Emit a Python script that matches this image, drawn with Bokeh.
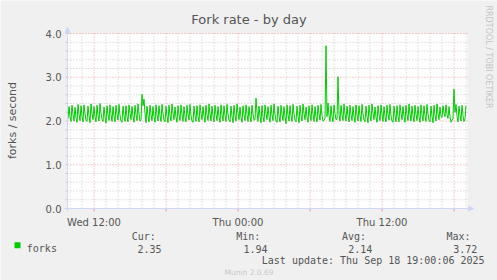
import math
import pandas as pd
from bokeh.plotting import figure
from bokeh.models import (Range1d, Label, Arrow, NormalHead, BoxAnnotation, ColumnDataSource)
from bokeh.embed import file_html
from bokeh.resources import INLINE

# ---------------- data ----------------
title_text = "Fork rate - by day"
y_label = "forks / second"
series_name = "forks"
series_color = "#00cc00"
first_sample = "2025-09-17 09:50"
step = "5min"
view_start = "2025-09-17 09:47:30"
view_end = "2025-09-18 19:07:30"

forks = [
    2.05, 2.33, 2.10, 1.99, 2.36, 2.14, 2.00, 2.31, 2.08, 1.97, 2.38, 2.15,
    2.01, 2.35, 2.11, 1.98, 2.37, 2.16, 2.02, 1.99, 2.34, 2.12, 1.96, 2.39,
    2.17, 2.03, 2.33, 2.09, 1.98, 2.36, 2.13, 2.00, 2.40, 2.18, 2.04, 1.99,
    2.32, 2.10, 1.95, 2.35, 2.14, 2.01, 2.37, 2.15, 1.99, 2.33, 2.11, 1.98,
    2.36, 2.16, 2.02, 2.38, 2.13, 2.00, 1.97, 2.34, 2.12, 1.99, 2.35, 2.10,
    1.98, 2.37, 2.17, 2.03, 2.33, 2.11, 1.97, 2.36, 2.14, 2.01, 2.39, 2.16,
    2.00, 2.02, 2.61, 2.35, 2.50, 2.18, 1.96, 2.34, 2.12, 1.98, 2.36, 2.15,
    2.01, 2.33, 2.10, 1.97, 2.37, 2.14, 2.00, 2.35, 2.12, 1.99, 2.38, 2.16,
    2.02, 1.98, 2.34, 2.11, 1.96, 2.36, 2.13, 2.00, 2.39, 2.17, 2.03, 2.32,
    2.09, 1.97, 2.35, 2.14, 2.01, 2.37, 2.15, 1.99, 2.33, 2.10, 1.98, 2.36,
    2.16, 2.02, 2.38, 2.13, 2.00, 1.97, 2.34, 2.12, 1.99, 2.35, 2.10, 1.98,
    2.37, 2.17, 2.03, 2.33, 2.11, 1.97, 2.36, 2.14, 2.01, 2.39, 2.16, 2.00,
    2.34, 2.12, 1.98, 2.36, 2.15, 2.01, 2.33, 2.10, 1.97, 2.37, 2.14, 2.00,
    2.35, 2.12, 1.99, 2.38, 2.16, 2.02, 1.98, 2.34, 2.11, 1.96, 2.36, 2.13,
    2.00, 2.39, 2.17, 2.03, 2.32, 2.09, 1.97, 2.35, 2.14, 2.01, 2.37, 2.15,
    1.99, 2.33, 2.10, 1.98, 2.36, 2.16, 2.02, 2.03, 2.52, 2.20, 1.99, 2.34,
    2.12, 1.96, 2.35, 2.10, 1.98, 2.37, 2.17, 2.03, 2.33, 2.11, 1.97, 2.36,
    2.14, 2.01, 2.39, 2.16, 2.00, 1.97, 2.34, 2.12, 1.98, 2.36, 2.15, 2.01,
    2.33, 2.10, 1.94, 2.37, 2.14, 2.00, 2.35, 2.12, 1.99, 2.38, 2.16, 2.02,
    1.98, 2.34, 2.11, 1.96, 2.36, 2.13, 2.00, 2.39, 2.17, 2.03, 2.32, 2.09,
    1.97, 2.35, 2.14, 2.01, 2.37, 2.15, 1.99, 2.33, 2.10, 1.98, 2.36, 2.16,
    2.02, 2.38, 2.13, 2.00, 2.01, 2.06, 3.72, 2.10, 2.41, 2.12, 1.99, 2.35,
    2.10, 1.98, 2.37, 2.17, 2.03, 2.04, 3.01, 2.15, 2.00, 2.36, 2.14, 2.01,
    2.39, 2.16, 2.00, 2.34, 2.12, 1.98, 2.36, 2.15, 2.01, 2.33, 2.10, 1.97,
    2.37, 2.14, 2.00, 2.35, 2.12, 1.99, 2.38, 2.16, 2.02, 1.98, 2.34, 2.11,
    1.96, 2.36, 2.13, 2.00, 2.39, 2.17, 2.03, 2.32, 2.09, 1.97, 2.35, 2.14,
    2.01, 2.37, 2.15, 1.99, 2.33, 2.10, 1.98, 2.36, 2.16, 2.02, 2.38, 2.13,
    2.00, 1.97, 2.34, 2.12, 1.98, 2.35, 2.10, 1.98, 2.37, 2.17, 2.03, 2.33,
    2.11, 1.97, 2.36, 2.14, 2.01, 2.39, 2.16, 2.00, 2.34, 2.12, 1.98, 2.36,
    2.15, 2.01, 2.33, 2.10, 1.97, 2.37, 2.14, 2.00, 2.35, 2.12, 1.99, 2.38,
    2.16, 2.02, 1.98, 2.34, 2.11, 1.96, 2.36, 2.13, 2.00, 2.39, 2.17, 2.03,
    2.32, 2.12, 2.08, 2.35, 2.18, 2.10, 2.37, 2.15, 2.06, 2.33, 2.10, 1.97,
    2.02, 2.05, 2.73, 2.20, 2.38, 2.12, 1.98, 2.34, 2.14, 2.00, 2.36, 2.13,
    1.99, 2.05, 2.35,
]

y_ticks = [0.0, 1.0, 2.0, 3.0, 4.0]
y_tick_labels = ["0.0", "1.0", "2.0", "3.0", "4.0"]
y_max = 4.0
y_minor_step = 0.2
x_label_ticks = ["2025-09-17 12:00", "2025-09-18 00:00", "2025-09-18 12:00"]
x_tick_labels = ["Wed 12:00", "Thu 00:00", "Thu 12:00"]
x_major_grid = ["2025-09-17 12:00", "2025-09-17 18:00", "2025-09-18 00:00",
                "2025-09-18 06:00", "2025-09-18 12:00", "2025-09-18 18:00"]
hour_grid_from, hour_grid_to = "2025-09-17 10:00", "2025-09-18 19:00"
stat_heads = ["Cur:", "Min:", "Avg:", "Max:"]
stat_vals = ["2.35", "1.94", "2.14", "3.72"]
last_update = "Last update: Thu Sep 18 19:00:06 2025"
side_mark = "RRDTOOL / TOBI OETIKER"
bottom_mark = "Munin 2.0.69"

# ---------------- styling / layout ----------------
W, H = 497, 280
FL, FR, FT, FB = 67, 467, 33, 208   # plot-area edges in canvas pixels
TXT = "#555555"
AXIS = "#CFD6F8"
MINOR = "#c8c8c8"
MAJOR = "#eb9a9a"
BACK = "#f0f0f0"
DOTS = "1 2"


def ms(s):
    return pd.Timestamp(s).value // 10**6


t0, t1 = ms(view_start), ms(view_end)
px_ms = (t1 - t0) / (FR - FL)        # ms per pixel
px_y = y_max / (FB - FT)             # value per pixel

times = pd.date_range(first_sample, periods=len(forks), freq=step)
src = ColumnDataSource(dict(t=times, v=forks))

# whole canvas is the frame; ranges chosen so the plot area sits at FL..FR / FT..FB
p = figure(width=W, height=H, x_axis_type="datetime",
           x_axis_location=None, y_axis_location=None,
           x_range=Range1d(t0 - FL * px_ms, t1 + (W - FR) * px_ms),
           y_range=Range1d(-(H - FB) * px_y, y_max + FT * px_y),
           output_backend="svg", toolbar_location=None,
           min_border=0)
p.background_fill_color = BACK
p.border_fill_color = BACK
p.outline_line_color = None
p.grid.visible = False

# white canvas of the plot area
p.add_layout(BoxAnnotation(left=t0, right=t1, bottom=0, top=y_max, fill_color="white",
                           fill_alpha=1.0, line_color=None, level="image"))

# grids
hours = pd.date_range(hour_grid_from, hour_grid_to, freq="1h")
major_ms = [ms(s) for s in x_major_grid]
minor_ms = [ms(h) for h in hours if ms(h) not in major_ms]
y_minor = [round(k * y_minor_step, 1) for k in range(1, 20) if k % 5 != 0]

p.segment(x0=minor_ms, x1=minor_ms, y0=[0] * len(minor_ms), y1=[y_max] * len(minor_ms),
          line_color=MINOR, line_dash=DOTS, line_width=1)
p.segment(x0=[t0] * len(y_minor), x1=[t1] * len(y_minor), y0=y_minor, y1=y_minor,
          line_color=MINOR, line_dash=DOTS, line_width=1)
p.segment(x0=major_ms, x1=major_ms, y0=[0] * len(major_ms), y1=[y_max] * len(major_ms),
          line_color=MAJOR, line_dash=DOTS, line_width=1)
p.segment(x0=[t0] * 4, x1=[t1] * 4, y0=y_ticks[1:], y1=y_ticks[1:],
          line_color=MAJOR, line_dash=DOTS, line_width=1)

# tick marks
p.segment(x0=major_ms, x1=major_ms, y0=[0] * len(major_ms), y1=[-3 * px_y] * len(major_ms),
          line_color=MAJOR, line_width=1)
all_y = sorted(y_minor + y_ticks)
p.segment(x0=[t0] * len(all_y), x1=[t0 - 2 * px_ms] * len(all_y), y0=all_y, y1=all_y,
          line_color=MINOR, line_width=1)

# data
p.line("t", "v", source=src, color=series_color, line_width=1)

# axis lines and arrows
p.segment(x0=[t0 - 3 * px_ms], x1=[t1 + 3 * px_ms], y0=[0], y1=[0], line_color=AXIS, line_width=1)
p.segment(x0=[t0], x1=[t0], y0=[-3 * px_y], y1=[y_max + 3 * px_y], line_color=AXIS, line_width=1)
p.add_layout(Arrow(end=NormalHead(size=5, fill_color=AXIS, line_color=AXIS),
                   x_start=t1, y_start=0, x_end=t1 + 6 * px_ms, y_end=0,
                   line_color=AXIS))
p.add_layout(Arrow(end=NormalHead(size=5, fill_color=AXIS, line_color=AXIS),
                   x_start=t0, y_start=y_max, x_end=t0, y_end=y_max + 6 * px_y,
                   line_color=AXIS))


def put(text, X, Y, size, color=TXT, font="DejaVu Sans", align="left",
        baseline="alphabetic", angle=0.0):
    p.add_layout(Label(x=X, y=H - Y, x_units="screen", y_units="screen",
                       text=text, text_font=font, text_font_size=size,
                       text_color=color, text_align=align, text_baseline=baseline,
                       angle=angle))


# tick labels (positioned through the data scales)
for v, lab in zip(y_ticks, y_tick_labels):
    p.add_layout(Label(x=61, y=v, x_units="screen", y_units="data", text=lab,
                       text_font="DejaVu Sans", text_font_size="10px", text_color=TXT,
                       text_align="right", text_baseline="middle"))
for tstr, lab in zip(x_label_ticks, x_tick_labels):
    p.add_layout(Label(x=ms(tstr), y=H - 221.5, x_units="data", y_units="screen", text=lab,
                       text_font="DejaVu Sans", text_font_size="10px", text_color=TXT,
                       text_align="center", text_baseline="alphabetic"))

put(title_text, 248.5, 18.5, "13px", align="center")
put(y_label, 11.5, 120, "11px", align="center", baseline="middle", angle=math.pi / 2)
put(side_mark, 488, 5, "8px", color="#c4c4c4", baseline="middle", angle=-math.pi / 2)
put(bottom_mark, 248.5, 271.7, "7.5px", color="#c8c8c8", align="center")

MONO = "DejaVu Sans Mono"
head_x = [131.2, 235.8, 341.5, 446.0]
val_x = [137.0, 242.9, 347.8, 452.8]
for hx, vx, h, v in zip(head_x, val_x, stat_heads, stat_vals):
    put(h, hx, 235.7, "10px", font=MONO)
    put(v, vx, 248.3, "10px", font=MONO)
put(series_name, 26.3, 248.3, "10px", font=MONO)
put(last_update, 261.3, 260.3, "10px", font=MONO)

p.add_layout(BoxAnnotation(left=14, right=20, top=H - 241.7, bottom=H - 247.7,
                           left_units="screen", right_units="screen",
                           top_units="screen", bottom_units="screen",
                           fill_color=series_color, fill_alpha=1.0, line_color=None))

open("out.html", "w").write(file_html(p, INLINE))
